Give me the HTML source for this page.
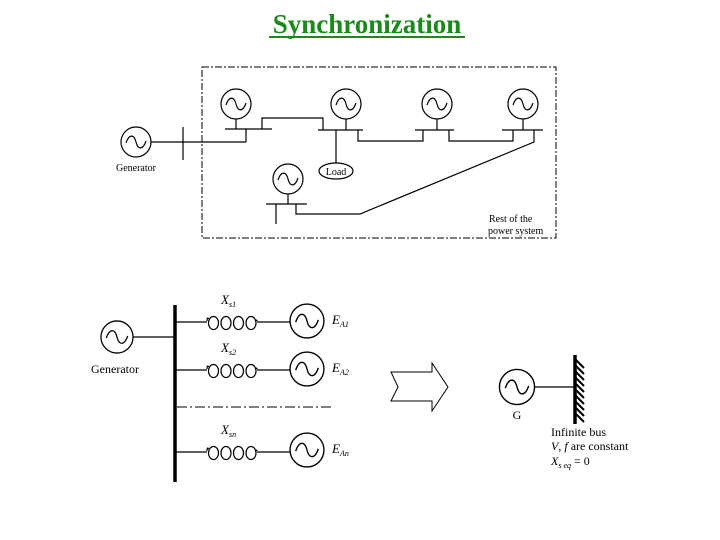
<!DOCTYPE html>
<html><head><meta charset="utf-8"><style>
html,body{margin:0;padding:0;background:#fff;}
svg{display:block;}
text{font-family:"Liberation Serif",serif;fill:#000;}
</style></head><body>
<svg width="720" height="540" viewBox="0 0 720 540" xmlns="http://www.w3.org/2000/svg">
<defs>
<g id="gen"><circle cx="0" cy="0" r="15" fill="#fff" stroke="#000" stroke-width="1.2"/><path d="M-10,1 C-7,-8 -2,-8 0,0 S7,8 10,-1" fill="none" stroke="#000" stroke-width="1.2"/></g>
<g id="coil" fill="none" stroke="#000" stroke-width="1.2">
<ellipse cx="6.5" cy="0" rx="5" ry="6.5"/><ellipse cx="19" cy="0" rx="5" ry="6.5"/>
<ellipse cx="31.5" cy="0" rx="5" ry="6.5"/><ellipse cx="44" cy="0" rx="5" ry="6.5"/>
<path d="M0,-2 C0,-5 1,-6 1.5,-4 M49,-2 C50,-4 50,-2 50,-2"/>
</g>
</defs>
<text x="367" y="33" text-anchor="middle" font-size="27" font-weight="bold" style="fill:#1a8a1a">Synchronization</text>
<line x1="269" y1="37" x2="465" y2="37" stroke="#1a8a1a" stroke-width="2"/>

<rect x="202" y="67" width="354" height="171" fill="none" stroke="#000" stroke-width="1" stroke-dasharray="7,2,2,2"/>
<g stroke="#000" stroke-width="1.2" fill="none">
<line x1="151" y1="142" x2="246" y2="142"/><line x1="183" y1="127" x2="183" y2="160"/>
<line x1="246" y1="142" x2="246" y2="129"/>
<line x1="236" y1="119" x2="236" y2="129"/><line x1="225" y1="129" x2="272" y2="129"/>
<polyline points="262,129 262,118 323,118 323,130"/>
<line x1="346" y1="119" x2="346" y2="130"/><line x1="318" y1="130" x2="363" y2="130"/>
<line x1="336" y1="130" x2="336" y2="164"/>
<polyline points="358,130 358,141 423,141 423,130"/>
<line x1="437" y1="119" x2="437" y2="130"/><line x1="415" y1="130" x2="454" y2="130"/>
<polyline points="449,130 449,141 513,141 513,130"/>
<line x1="523" y1="119" x2="523" y2="130"/><line x1="502" y1="130" x2="543" y2="130"/>
<polyline points="534,130 534,142 360,214 296,214 296,204"/>
<line x1="288" y1="194" x2="288" y2="204"/><line x1="266" y1="204" x2="307" y2="204"/>
<line x1="276" y1="204" x2="276" y2="224"/>
<ellipse cx="336" cy="171" rx="17" ry="8" fill="#fff"/>
</g>
<use href="#gen" x="136" y="142"/>
<use href="#gen" x="236" y="104"/>
<use href="#gen" x="346" y="104"/>
<use href="#gen" x="437" y="104"/>
<use href="#gen" x="523" y="104"/>
<use href="#gen" x="288" y="179"/>
<text x="136" y="171" text-anchor="middle" font-size="10">Generator</text>
<text x="336" y="175" text-anchor="middle" font-size="10">Load</text>
<text x="489" y="222" font-size="10">Rest of the</text>
<text x="488" y="234" font-size="10">power system</text>

<g stroke="#000" stroke-width="1.2" fill="none">
<line x1="175" y1="305" x2="175" y2="482" stroke-width="3.5"/>
<line x1="133" y1="337" x2="175" y2="337"/>
<line x1="175" y1="322" x2="207" y2="322"/><line x1="257" y1="322" x2="290" y2="322"/>
<line x1="175" y1="370" x2="207" y2="370"/><line x1="257" y1="370" x2="290" y2="370"/>
<line x1="175" y1="452" x2="207" y2="452"/><line x1="257" y1="452" x2="290" y2="452"/>
<line x1="177" y1="407" x2="333" y2="407" stroke-width="1" stroke-dasharray="10,3,2,3"/>
</g>
<use href="#coil" transform="translate(207,323)"/>
<use href="#coil" transform="translate(207,371)"/>
<use href="#coil" transform="translate(207,453)"/>
<use href="#gen" transform="translate(117,337) scale(1.07)"/>
<use href="#gen" transform="translate(307,321) scale(1.13)"/>
<use href="#gen" transform="translate(307,369) scale(1.13)"/>
<use href="#gen" transform="translate(307,450) scale(1.13)"/>
<text x="115" y="373" text-anchor="middle" font-size="12">Generator</text>
<text x="221" y="304" font-size="13" font-style="italic">X<tspan font-size="8" dy="3">s1</tspan></text>
<text x="221" y="352" font-size="13" font-style="italic">X<tspan font-size="8" dy="3">s2</tspan></text>
<text x="221" y="434" font-size="13" font-style="italic">X<tspan font-size="8" dy="3">sn</tspan></text>
<text x="332" y="324" font-size="13" font-style="italic">E<tspan font-size="8" dy="3">A1</tspan></text>
<text x="332" y="372" font-size="13" font-style="italic">E<tspan font-size="8" dy="3">A2</tspan></text>
<text x="332" y="453" font-size="13" font-style="italic">E<tspan font-size="8" dy="3">An</tspan></text>

<polygon points="391,372 432,372 432,363 448,387 432,411 432,401 391,401 398,387" fill="#fff" stroke="#000" stroke-width="1"/>

<line x1="535" y1="387" x2="575" y2="387" stroke="#000" stroke-width="1.2"/>
<use href="#gen" transform="translate(517,387) scale(1.17)"/>
<line x1="575" y1="355" x2="575" y2="424" stroke="#000" stroke-width="3.5"/>
<g stroke="#000" stroke-width="2">
<line x1="576" y1="360" x2="584" y2="368"/><line x1="576" y1="366" x2="584" y2="374"/>
<line x1="576" y1="372" x2="584" y2="380"/><line x1="576" y1="378" x2="584" y2="386"/>
<line x1="576" y1="384" x2="584" y2="392"/><line x1="576" y1="390" x2="584" y2="398"/>
<line x1="576" y1="396" x2="584" y2="404"/><line x1="576" y1="402" x2="584" y2="410"/>
<line x1="576" y1="408" x2="584" y2="416"/><line x1="576" y1="414" x2="584" y2="422"/>
</g>
<text x="517" y="419" text-anchor="middle" font-size="12">G</text>
<text x="551" y="436" font-size="12">Infinite bus</text>
<text x="551" y="450" font-size="12"><tspan font-style="italic">V</tspan>, <tspan font-style="italic">f</tspan> are constant</text>
<text x="551" y="465" font-size="12"><tspan font-style="italic">X</tspan><tspan font-size="8" dy="3" font-style="italic">s eq</tspan><tspan dy="-3"> = 0</tspan></text>
</svg>
</body></html>
